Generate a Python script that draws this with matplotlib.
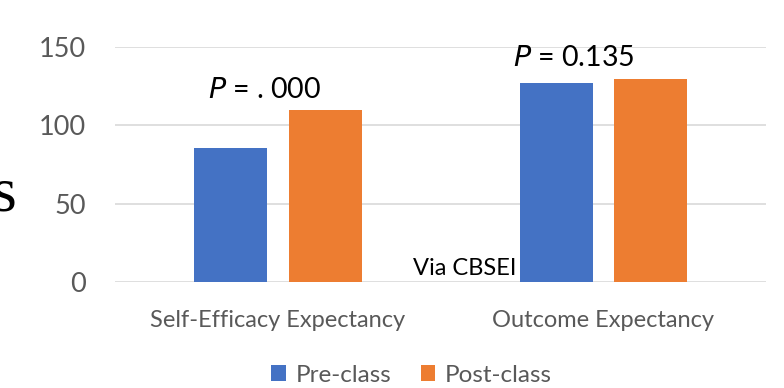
import matplotlib
matplotlib.use("Agg")
import matplotlib.pyplot as plt
import numpy as np

categories = ["Self-Efficacy Expectancy", "Outcome Expectancy"]
pre_class = [85.6, 127.0]
post_class = [109.8, 129.8]
yticks = [0, 50, 100, 150]
p_labels = ["= . 000", "= 0.135"]

BLUE = "#4472C4"
ORANGE = "#ED7D31"
GRAY = "#595959"
FONT = ["Lato", "DejaVu Sans"]

fig = plt.figure(figsize=(7.84, 3.88), dpi=100)
ax = fig.add_axes([0.147, 0.273, 0.83, 0.606])

x = np.arange(len(categories))
w = 0.225
off = 0.145
ax.bar(x - off, pre_class, w, color=BLUE, label="Pre-class", zorder=3)
ax.bar(x + off, post_class, w, color=ORANGE, label="Post-class", zorder=3)

ax.set_xlim(-0.5, 1.5)
ax.set_ylim(0, 150)
ax.set_yticks(yticks)
ax.set_yticklabels([str(t) for t in yticks], fontsize=19.5, color=GRAY, family=FONT)
ax.set_xticks(x)
ax.set_xticklabels(categories, fontsize=17, color=GRAY, family=FONT)
ax.tick_params(axis="both", length=0)
ax.tick_params(axis="y", pad=21)
ax.tick_params(axis="x", pad=20)
ax.grid(axis="y", color="#D9D9D9", linewidth=1.2, zorder=0)
for s in ax.spines.values():
    s.set_visible(False)

# P-value annotations
ax.text(-0.04, 117.5, r"$\mathit{P}$ " + p_labels[0], fontsize=20.5, ha="center", va="baseline",
        family=FONT, color="black")
ax.text(0.91, 138, r"$\mathit{P}$ " + p_labels[1], fontsize=20.5, ha="center", va="baseline",
        family=FONT, color="black", clip_on=False)
ax.text(0.415, 4.5, "Via CBSEI", fontsize=17, ha="left", va="baseline", family=FONT, color="black",
        clip_on=False)

# stray serif letter at left edge
fig.text(16 / 784, 1 - 211 / 388, "s", fontsize=46, ha="right", va="baseline",
         family=["Liberation Serif", "DejaVu Serif"], color="black")

leg = fig.legend(loc="lower center", bbox_to_anchor=(0.525, -0.05), ncol=2, frameon=False,
                 prop={"family": FONT, "size": 17.5}, handlelength=0.6, handleheight=0.6,
                 handletextpad=0.4, columnspacing=1.2)
for t in leg.get_texts():
    t.set_color(GRAY)

fig.savefig("out.png", dpi=100)
